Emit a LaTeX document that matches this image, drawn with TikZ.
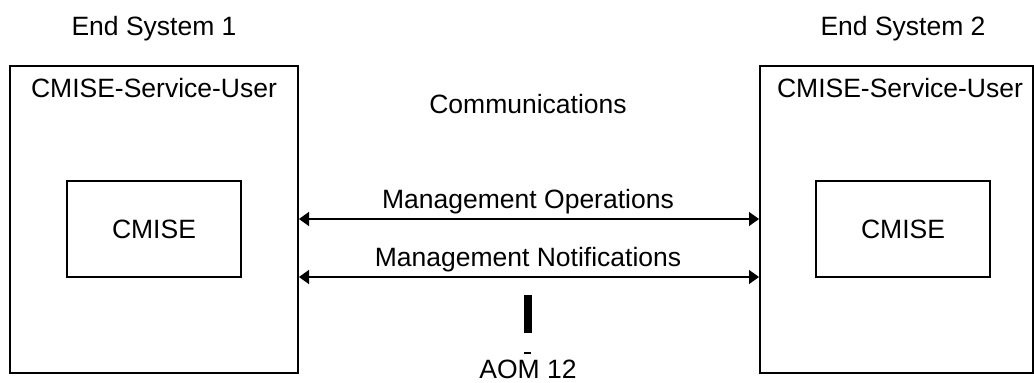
\documentclass[tikz,border=0pt]{standalone}
\usepackage{fontspec}
\setmainfont{Liberation Sans}
\usetikzlibrary{arrows.meta}
\def\txt{\fontsize{26.5pt}{30pt}\selectfont}
\def\tip{Triangle[length=10pt, width=14pt]}

\begin{document}
\begin{tikzpicture}[x=1pt, y=-1pt,
  box/.style={draw, line width=2pt, inner sep=0pt, font=\txt},
  lbl/.style={inner sep=0pt, anchor=base, font=\txt},
  link/.style={line width=1.5pt, {\tip}-{\tip}}]
  \useasboundingbox (0,0) rectangle (1034,383);
  % the two end systems
  \node[box, minimum width=288pt, minimum height=307pt] (user1) at (154,219.5) {};
  \node[box, minimum width=273pt, minimum height=307pt] (user2) at (896.5,219.5) {};
  \node[lbl] (es1) at (154,35) {End System 1};
  \node[lbl] (es2) at (903,35) {End System 2};
  \node[lbl] (title1) at (154,97) {CMISE-Service-User};
  \node[lbl] (title2) at (900,97) {CMISE-Service-User};
  \node[box, minimum width=174pt, minimum height=96pt] (cmise1) at (154,229) {CMISE};
  \node[box, minimum width=174pt, minimum height=96pt] (cmise2) at (903,229) {CMISE};
  % communications
  \node[lbl] (comm) at (528,113) {Communications};
  \node[lbl] (ops) at (528,208) {Management Operations};
  \node[lbl] (notif) at (528,266) {Management Notifications};
  \coordinate (y1) at (0,219);
  \coordinate (y2) at (0,277);
  \foreach \y in {y1,y2}{
    \draw[link] (user1.east |- \y) -- (user2.west |- \y);
  }
  \node[fill, inner sep=0pt, minimum width=8pt, minimum height=38pt] (bar) at (528,314) {};
  \node[fill, inner sep=0pt, minimum width=7pt, minimum height=1.5pt] (tick) at (527.5,353) {};
  \node[lbl] (aom) at (528,378.5) {AOM 12};
\end{tikzpicture}
\end{document}
